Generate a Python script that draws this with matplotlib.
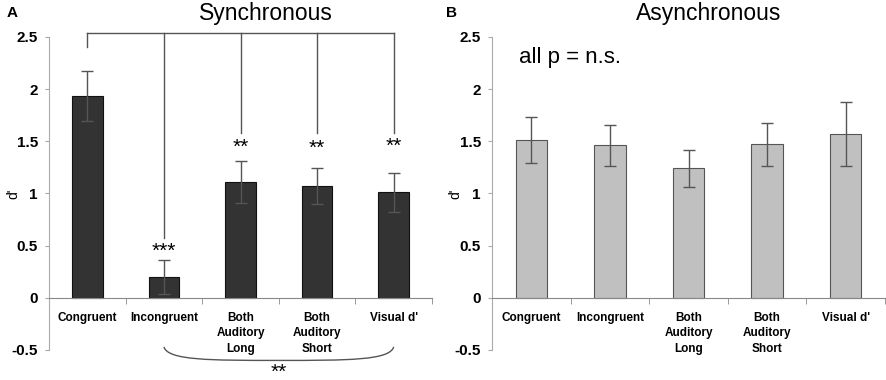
import numpy as np
import matplotlib
matplotlib.use("Agg")
import matplotlib.pyplot as plt
from matplotlib.patches import PathPatch
from matplotlib.path import Path

plt.rcParams['font.family'] = ['Liberation Sans', 'DejaVu Sans']

categories = ["Congruent", "Incongruent", "Both\nAuditory\nLong", "Both\nAuditory\nShort", "Visual d'"]
sync_vals = [1.93, 0.20, 1.11, 1.07, 1.01]
sync_err = [0.24, 0.16, 0.20, 0.17, 0.19]
async_vals = [1.51, 1.46, 1.24, 1.47, 1.57]
async_err = [0.22, 0.20, 0.175, 0.21, 0.31]
yticks = [-0.5, 0, 0.5, 1, 1.5, 2, 2.5]
ytick_labels = ["-0.5", "0", "0.5", "1", "1.5", "2", "2.5"]


def style_axis(ax, label_x):
    x = np.arange(len(categories))
    ax.set_xlim(-0.5, len(categories) - 0.5)
    ax.set_ylim(-0.5, 2.5)
    for s in ['top', 'right']:
        ax.spines[s].set_visible(False)
    ax.spines['bottom'].set_position(('data', 0))
    ax.spines['bottom'].set_color('#888888')
    ax.spines['left'].set_color('#aaaaaa')
    ax.set_yticks(yticks)
    ax.set_yticklabels(ytick_labels, fontsize=11, fontweight='bold')
    ax.tick_params(axis='y', length=3, color='#aaaaaa', pad=5)
    ax.set_xticks(x)
    ax.set_xticklabels(categories, fontsize=8.5, fontweight='bold', va='top', linespacing=1.4)
    ax.tick_params(axis='x', length=0, pad=10)
    ax.set_xticks(np.arange(len(categories) + 1) - 0.5, minor=True)
    ax.tick_params(axis='x', which='minor', length=4, color='#888888')
    ax.set_ylabel("d'", fontsize=10)
    ax.yaxis.set_label_coords(label_x, 0.5)


fig = plt.figure(figsize=(8.86, 3.8), dpi=100)
axA = fig.add_axes([0.0553, 0.079, 0.4323, 0.8237])
axB = fig.add_axes([0.5553, 0.079, 0.4436, 0.8237])

x = np.arange(len(categories))
axA.bar(x, sync_vals, width=0.4, color='#333333', edgecolor='#111111', linewidth=0.8, zorder=2)
axA.errorbar(x, sync_vals, yerr=sync_err, fmt='none', ecolor='#555555', elinewidth=1, capsize=4, zorder=3)
axB.bar(x, async_vals, width=0.4, color='#c0c0c0', edgecolor='#555555', linewidth=0.8, zorder=2)
axB.errorbar(x, async_vals, yerr=async_err, fmt='none', ecolor='#555555', elinewidth=1, capsize=4, zorder=3)

style_axis(axA, -0.075)
style_axis(axB, -0.075)

# significance bracket (top)
lc = '#555555'
top = 2.54
drops = [2.40, 0.57, 1.58, 1.58, 1.58]
axA.plot([x[0], x[-1]], [top, top], color=lc, lw=1, clip_on=False)
for xi, d in zip(x, drops):
    axA.plot([xi, xi], [top, d], color=lc, lw=1, clip_on=False)
stars = ["", "***", "**", "**", "**"]
star_y = [0, 0.45, 1.44, 1.43, 1.45]
for xi, sy, s in zip(x, star_y, stars):
    if s:
        axA.text(xi, sy, s, ha='center', va='center', fontsize=15)

# curved brace (bottom)
x0, x1 = x[1], x[-1]
verts = [(x0, -0.47), (x0 + 0.05, -0.60), (x0 + 0.6, -0.60), (2.5, -0.60),
         (x1 - 0.6, -0.60), (x1 - 0.05, -0.60), (x1, -0.47)]
codes = [Path.MOVETO, Path.CURVE4, Path.CURVE4, Path.CURVE4, Path.CURVE4, Path.CURVE4, Path.CURVE4]
axA.add_patch(PathPatch(Path(verts, codes), fill=False, edgecolor=lc, lw=1, clip_on=False))
axA.text((x0 + x1) / 2, -0.71, "**", ha='center', va='center', fontsize=15)

axB.text(-0.16, 2.3, "all p = n.s.", fontsize=16, ha='left', va='center')

fig.text(0.30, 0.965, "Synchronous", fontsize=16.5, ha='center', va='center')
fig.text(0.80, 0.965, "Asynchronous", fontsize=16.5, ha='center', va='center')
fig.text(0.008, 0.965, "A", fontsize=11, fontweight='bold', ha='left', va='center')
fig.text(0.503, 0.965, "B", fontsize=11, fontweight='bold', ha='left', va='center')

fig.savefig("out.png", dpi=100)
